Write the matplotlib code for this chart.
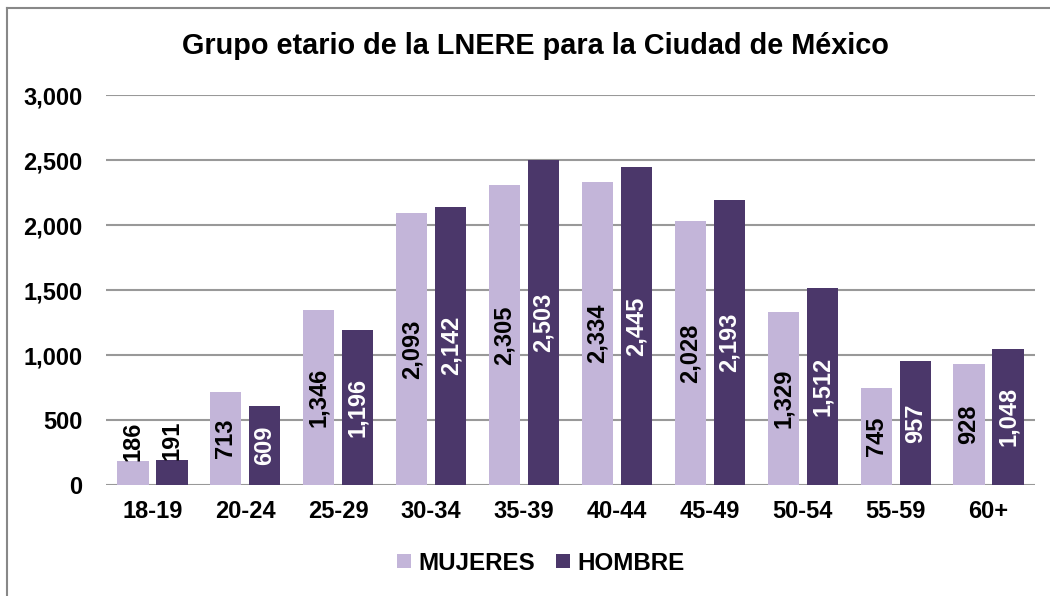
import matplotlib.pyplot as plt
import matplotlib.lines as mlines
import numpy as np

plt.rcParams['font.family'] = ['Liberation Sans', 'DejaVu Sans']
plt.rcParams['font.weight'] = 'bold'

categories = ['18-19', '20-24', '25-29', '30-34', '35-39', '40-44', '45-49', '50-54', '55-59', '60+']
mujeres = [186, 713, 1346, 2093, 2305, 2334, 2028, 1329, 745, 928]
hombre = [191, 609, 1196, 2142, 2503, 2445, 2193, 1512, 957, 1048]

light = '#C3B5D9'
dark = '#4B376A'

fig = plt.figure(figsize=(10.5, 5.96), dpi=100)
ax = fig.add_axes([0.101, 0.1862, 0.8847, 0.6544])

x = np.arange(len(categories))
w = 0.335
off = 0.21
b1 = ax.bar(x - off, mujeres, w, color=light, label='MUJERES', zorder=3)
b2 = ax.bar(x + off, hombre, w, color=dark, label='HOMBRE', zorder=3)

# value labels, rotated, centred in the bars (small ones sit on top)
for xs, vals, col in [(x - off, mujeres, 'black'), (x + off, hombre, 'white')]:
    for xi, v in zip(xs, vals):
        if v < 300:
            ax.text(xi, v, f'{v:,}', rotation=90, ha='center', va='bottom',
                    fontsize=17, color='black', zorder=4)
        else:
            ax.text(xi, v / 2, f'{v:,}', rotation=90, ha='center', va='center',
                    fontsize=17, color=col, zorder=4)

ax.set_xlim(-0.5, len(categories) - 0.5)
ax.set_ylim(0, 3000)
ax.set_yticks(range(0, 3001, 500))
ax.set_yticklabels([f'{t:,}' for t in range(0, 3001, 500)])
ax.set_xticks(x)
ax.set_xticklabels(categories)
ax.tick_params(axis='both', length=0, labelsize=17)
ax.tick_params(axis='y', pad=17)
ax.tick_params(axis='x', pad=11)
ax.grid(axis='y', color='#999999', linewidth=1.5, zorder=0)
for s in ax.spines.values():
    s.set_visible(False)

fig.text(0.51, 0.923, 'Grupo etario de la LNERE para la Ciudad de México',
         ha='center', va='center', fontsize=20.8, fontweight='bold')

fig.legend(handles=[b1, b2], loc='center', bbox_to_anchor=(0.515, 0.055), ncol=2,
           frameon=False, fontsize=17.4, handlelength=0.55, handleheight=0.55,
           handletextpad=0.3, columnspacing=0.9)

# outer frame (top and left edges)
fig.add_artist(mlines.Line2D([0.0067, 1.0], [0.9866, 0.9866], color='#888888', linewidth=1.5, transform=fig.transFigure))
fig.add_artist(mlines.Line2D([0.0067, 0.0067], [0.0, 0.9866], color='#888888', linewidth=1.5, transform=fig.transFigure))

fig.savefig('out.png', dpi=100)
